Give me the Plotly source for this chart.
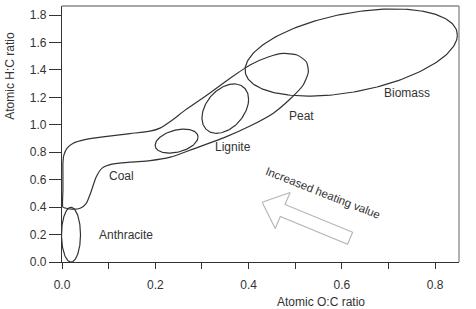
import numpy as np
import plotly.graph_objects as go

# ---- data ----
x_ticks = [0.0, 0.1, 0.2, 0.3, 0.4, 0.5, 0.6, 0.7, 0.8]
x_tick_text = ["0.0", "", "0.2", "", "0.4", "", "0.6", "", "0.8"]
y_ticks = [0.0, 0.2, 0.4, 0.6, 0.8, 1.0, 1.2, 1.4, 1.6, 1.8]

# ellipses: centre x, centre y, half-width, half-height, phase (deg; 90 = upright)
ellipse_names = ["Anthracite", "CoalEnd", "Lignite", "Biomass"]
ellipse_cx = [0.0193, 0.2457, 0.350, 0.620]
ellipse_cy = [0.199, 0.881, 1.118, 1.527]
ellipse_rx = [0.0204, 0.046, 0.050, 0.2275]
ellipse_ry = [0.200, 0.0876, 0.180, 0.3175]
ellipse_phase = [90, 70, 68, 66.4]

# coal / peat band outline
coal_x = [0.002, 0.002, 0.002, 0.002, 0.004, 0.011, 0.024, 0.049, 0.092, 0.146, 0.189,
          0.210, 0.236, 0.264, 0.311, 0.361, 0.403, 0.442, 0.474, 0.504, 0.524, 0.528, 0.517,
          0.489, 0.453, 0.403, 0.350, 0.281, 0.232, 0.189, 0.146, 0.107, 0.086, 0.073,
          0.062, 0.052, 0.039, 0.021, 0.009, 0.002]
coal_y = [0.399, 0.523, 0.633, 0.720, 0.779, 0.830, 0.866, 0.892, 0.914, 0.936, 0.954,
          0.976, 1.034, 1.107, 1.217, 1.341, 1.436, 1.494, 1.520, 1.509, 1.458, 1.385, 1.290,
          1.188, 1.085, 0.991, 0.910, 0.823, 0.764, 0.739, 0.728, 0.713, 0.684, 0.618,
          0.509, 0.428, 0.392, 0.385, 0.392, 0.399]

# hollow arrow outline
arrow_x = [0.429, 0.489, 0.478, 0.623, 0.612, 0.468, 0.457, 0.429]
arrow_y = [0.436, 0.507, 0.419, 0.217, 0.129, 0.331, 0.244, 0.436]

label_text = ["Anthracite", "Coal", "Lignite", "Peat", "Biomass"]
label_x = [0.138, 0.128, 0.366, 0.514, 0.740]
label_y = [0.195, 0.626, 0.837, 1.064, 1.231]

X_RANGE = [0, 0.851]
Y_RANGE = [0, 1.866]

FONT = "Arial, Liberation Sans, sans-serif"
LINE = "#333333"
TXT = "#333333"

fig = go.Figure()

fig.add_trace(go.Scatter(x=coal_x, y=coal_y, mode="lines",
                         line=dict(color=LINE, width=1.2, shape="spline", smoothing=0.6),
                         hoverinfo="skip", showlegend=False))

t = np.linspace(0, 2 * np.pi, 200)
for cx, cy, rx, ry, ph in zip(ellipse_cx, ellipse_cy, ellipse_rx, ellipse_ry, ellipse_phase):
    d = np.deg2rad(ph)
    fig.add_trace(go.Scatter(x=cx + rx * np.cos(t), y=cy + ry * np.cos(t - d), mode="lines",
                             line=dict(color=LINE, width=1.2), hoverinfo="skip", showlegend=False))

fig.add_trace(go.Scatter(x=arrow_x, y=arrow_y, mode="lines", line=dict(color="#b4b4b4", width=1.1),
                         hoverinfo="skip", showlegend=False))

for s, lx, ly in zip(label_text, label_x, label_y):
    fig.add_annotation(x=lx, y=ly, text=s, showarrow=False, xanchor="center", yanchor="middle",
                       font=dict(family=FONT, size=12, color=TXT))

fig.add_annotation(x=0.560, y=0.506, text="Increased heating value", showarrow=False, textangle=21.5,
                   xanchor="center", yanchor="middle", font=dict(family=FONT, size=11.5, color=TXT))

# axis titles
fig.add_annotation(xref="paper", yref="paper", x=(320.5 - 62) / 396.7, y=(261.7 - 301.5) / 255.7,
                   xanchor="center", yanchor="middle",
                   text="Atomic O:C ratio", showarrow=False, font=dict(family=FONT, size=12, color=TXT))
fig.add_annotation(xref="paper", yref="paper", x=(10 - 62) / 396.7, y=(261.7 - 75.7) / 255.7,
                   xanchor="center", yanchor="middle",
                   text="Atomic H:C ratio", showarrow=False, textangle=-90, font=dict(family=FONT, size=12, color=TXT))

# top / right frame
fig.add_shape(type="line", xref="paper", yref="paper", x0=0, x1=1, y0=1, y1=1, line=dict(color="#888888", width=1.3))
fig.add_shape(type="line", xref="paper", yref="paper", x0=1, x1=1, y0=0, y1=1, line=dict(color="#888888", width=1.3))

fig.update_xaxes(range=X_RANGE, tickvals=x_ticks, ticktext=x_tick_text, ticks="outside", ticklen=6,
                 tickcolor=LINE, showline=True, linecolor=LINE, linewidth=1.3, showgrid=False, zeroline=False,
                 ticklabelstandoff=5, tickfont=dict(family=FONT, size=12, color=TXT))
fig.update_yaxes(range=Y_RANGE, tickvals=y_ticks, tickformat=".1f", ticks="outside", ticklen=12,
                 tickcolor=LINE, showline=True, linecolor=LINE, linewidth=1.3, showgrid=False, zeroline=False,
                 tickfont=dict(family=FONT, size=12, color=TXT))

fig.update_layout(width=476, height=309, margin=dict(l=62, r=17.3, t=6, b=47.3),
                  paper_bgcolor="white", plot_bgcolor="white", showlegend=False)

fig.write_html("out.html")
